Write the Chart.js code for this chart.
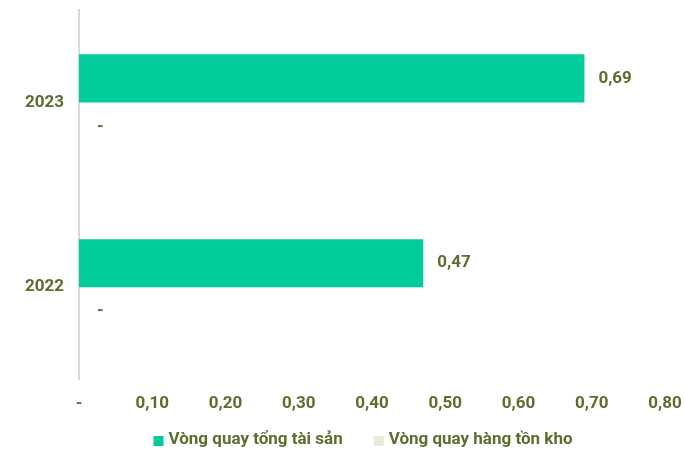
<!DOCTYPE html>
<html>
<head>
<meta charset="utf-8">
<script src="https://cdn.jsdelivr.net/npm/chart.js@4/dist/chart.umd.min.js"></script>
<style>
  html, body { margin: 0; padding: 0; background: #fff; }
  #wrap { width: 684px; height: 450px; }
</style>
</head>
<body>
<div id="wrap"><canvas id="chart"></canvas></div>
<script>
const years = ['2023', '2022'];
const assetTurnover = [0.69, 0.47];
const inventoryTurnover = [0, 0];
const seriesNames = ['Vòng quay tổng tài sản', 'Vòng quay hàng tồn kho'];
const seriesColors = ['#00cc99', '#e6ebdc'];

const textColor = '#5b6e2f';
const fontSpec = { family: 'Roboto', size: 17, weight: 'bold' };

function fmt(v) {
    if (v === 0) return '-';
    return v.toFixed(2).replace('.', ',');
}

// value labels to the right of each bar
const barLabels = {
    id: 'barLabels',
    afterDatasetsDraw(chart) {
        const ctx = chart.ctx;
        ctx.save();
        ctx.font = 'bold 17px Roboto';
        ctx.fillStyle = textColor;
        ctx.textBaseline = 'middle';
        ctx.textAlign = 'left';
        chart.data.datasets.forEach((ds, i) => {
            chart.getDatasetMeta(i).data.forEach((bar, j) => {
                const v = ds.data[j];
                const off = v === 0 ? 18 : 14;
                ctx.fillText(fmt(v), bar.x + off, bar.y);
            });
        });
        ctx.restore();
    }
};

// legend at the bottom, tighter spacing than the built-in one
const bottomLegend = {
    id: 'bottomLegend',
    afterDraw(chart) {
        const ctx = chart.ctx;
        const area = chart.chartArea;
        const box = 10, gapText = 5, gapItem = 31;
        ctx.save();
        ctx.font = 'bold 17px Roboto';
        ctx.textBaseline = 'middle';
        ctx.textAlign = 'left';
        const widths = chart.data.datasets.map(ds => box + gapText + ctx.measureText(ds.label).width);
        const total = widths.reduce((a, b) => a + b, 0) + gapItem * (widths.length - 1);
        let x = (area.left + area.right) / 2 - 9 - total / 2;
        const y = 440;
        chart.data.datasets.forEach((ds, i) => {
            ctx.fillStyle = ds.backgroundColor;
            ctx.fillRect(x, y - box / 2 + 1, box, box);
            ctx.fillStyle = textColor;
            ctx.fillText(ds.label, x + box + gapText, y);
            x += widths[i] + gapItem;
        });
        ctx.restore();
    }
};

function noEdgePadding(scale) {
    scale.paddingTop = 0;
    scale.paddingBottom = 0;
    scale.paddingLeft = 0;
    scale.paddingRight = 0;
}

new Chart(document.getElementById('chart'), {
    type: 'bar',
    data: {
        labels: years,
        datasets: [
            {
                label: seriesNames[0],
                data: assetTurnover,
                backgroundColor: seriesColors[0],
                categoryPercentage: 0.52,
                barPercentage: 1
            },
            {
                label: seriesNames[1],
                data: inventoryTurnover,
                backgroundColor: seriesColors[1],
                categoryPercentage: 0.52,
                barPercentage: 1
            }
        ]
    },
    options: {
        indexAxis: 'y',
        responsive: true,
        maintainAspectRatio: false,
        animation: false,
        layout: { padding: { top: 10, right: 19, left: 10, bottom: 22 } },
        scales: {
            x: {
                min: 0,
                max: 0.8,
                grid: { display: false, drawTicks: false },
                border: { display: false },
                afterFit: noEdgePadding,
                ticks: {
                    stepSize: 0.1,
                    color: textColor,
                    font: fontSpec,
                    padding: 14,
                    callback: v => fmt(v)
                }
            },
            y: {
                grid: { display: false, drawTicks: false },
                border: { display: true, color: '#d9d9d9', width: 2 },
                afterFit: noEdgePadding,
                ticks: {
                    color: textColor,
                    font: fontSpec,
                    padding: 15
                }
            }
        },
        plugins: {
            legend: { display: false },
            tooltip: { enabled: false }
        }
    },
    plugins: [barLabels, bottomLegend]
});
</script>
</body>
</html>
